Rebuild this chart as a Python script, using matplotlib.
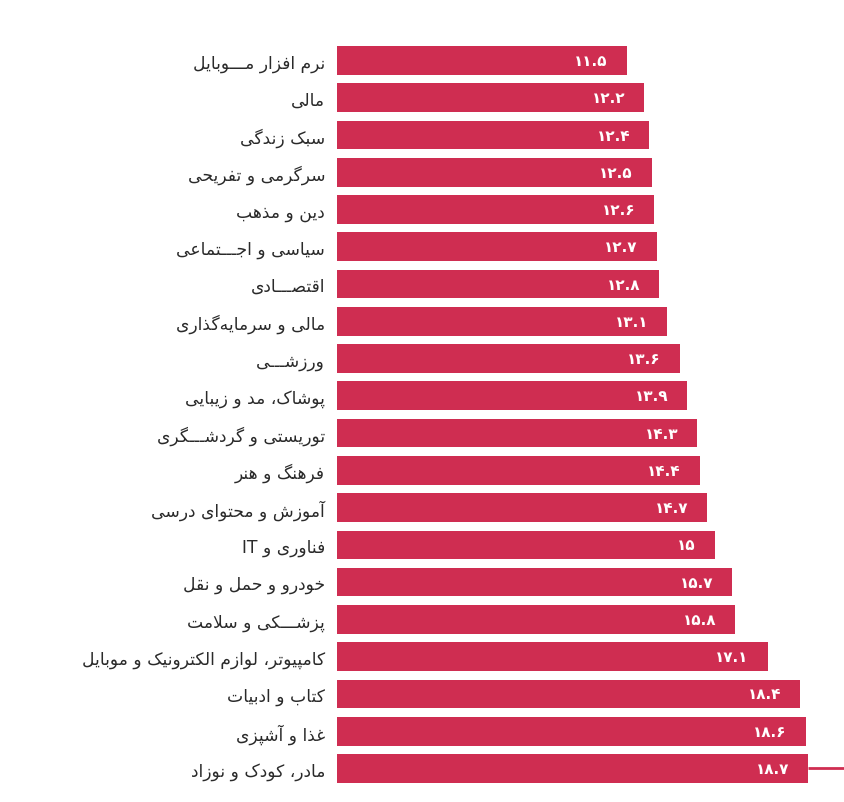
"""Horizontal bar chart of Persian categories (recreated)."""

import re

import matplotlib.pyplot as plt

categories = [
    "نرم افزار مـــوبایل",
    "مالی",
    "سبک زندگی",
    "سرگرمی و تفریحی",
    "دین و مذهب",
    "سیاسی و اجـــتماعی",
    "اقتصـــادی",
    "مالی و سرمایه\u200cگذاری",
    "ورزشـــی",
    "پوشاک، مد و زیبایی",
    "توریستی و گردشـــگری",
    "فرهنگ و هنر",
    "آموزش و محتوای درسی",
    "فناوری و IT",
    "خودرو و حمل و نقل",
    "پزشـــکی و سلامت",
    "کامپیوتر، لوازم الکترونیک و موبایل",
    "کتاب و ادبیات",
    "غذا و آشپزی",
    "مادر، کودک و نوزاد",
]
values = [11.5, 12.2, 12.4, 12.5, 12.6, 12.7, 12.8, 13.1, 13.6, 13.9,
          14.3, 14.4, 14.7, 15, 15.7, 15.8, 17.1, 18.4, 18.6, 18.7]

BAR_COLOR = "#CF2D51"

# presentation forms: (isolated, final, initial, medial)
FORMS = {
    "\u0622": ("\uFE81", "\uFE82", None, None),
    "\u0627": ("\uFE8D", "\uFE8E", None, None),
    "\u0628": ("\uFE8F", "\uFE90", "\uFE91", "\uFE92"),
    "\u062A": ("\uFE95", "\uFE96", "\uFE97", "\uFE98"),
    "\u062B": ("\uFE99", "\uFE9A", "\uFE9B", "\uFE9C"),
    "\u062C": ("\uFE9D", "\uFE9E", "\uFE9F", "\uFEA0"),
    "\u062D": ("\uFEA1", "\uFEA2", "\uFEA3", "\uFEA4"),
    "\u062E": ("\uFEA5", "\uFEA6", "\uFEA7", "\uFEA8"),
    "\u062F": ("\uFEA9", "\uFEAA", None, None),
    "\u0630": ("\uFEAB", "\uFEAC", None, None),
    "\u0631": ("\uFEAD", "\uFEAE", None, None),
    "\u0632": ("\uFEAF", "\uFEB0", None, None),
    "\u0633": ("\uFEB1", "\uFEB2", "\uFEB3", "\uFEB4"),
    "\u0634": ("\uFEB5", "\uFEB6", "\uFEB7", "\uFEB8"),
    "\u0635": ("\uFEB9", "\uFEBA", "\uFEBB", "\uFEBC"),
    "\u0636": ("\uFEBD", "\uFEBE", "\uFEBF", "\uFEC0"),
    "\u0637": ("\uFEC1", "\uFEC2", "\uFEC3", "\uFEC4"),
    "\u0638": ("\uFEC5", "\uFEC6", "\uFEC7", "\uFEC8"),
    "\u0639": ("\uFEC9", "\uFECA", "\uFECB", "\uFECC"),
    "\u063A": ("\uFECD", "\uFECE", "\uFECF", "\uFED0"),
    "\u0641": ("\uFED1", "\uFED2", "\uFED3", "\uFED4"),
    "\u0642": ("\uFED5", "\uFED6", "\uFED7", "\uFED8"),
    "\u0644": ("\uFEDD", "\uFEDE", "\uFEDF", "\uFEE0"),
    "\u0645": ("\uFEE1", "\uFEE2", "\uFEE3", "\uFEE4"),
    "\u0646": ("\uFEE5", "\uFEE6", "\uFEE7", "\uFEE8"),
    "\u0647": ("\uFEE9", "\uFEEA", "\uFEEB", "\uFEEC"),
    "\u0648": ("\uFEED", "\uFEEE", None, None),
    "\u067E": ("\uFB56", "\uFB57", "\uFB58", "\uFB59"),
    "\u0686": ("\uFB7A", "\uFB7B", "\uFB7C", "\uFB7D"),
    "\u0698": ("\uFB8A", "\uFB8B", None, None),
    "\u06A9": ("\uFB8E", "\uFB8F", "\uFB90", "\uFB91"),
    "\u06AF": ("\uFB92", "\uFB93", "\uFB94", "\uFB95"),
    "\u06CC": ("\uFBFC", "\uFBFD", "\uFBFE", "\uFBFF"),
    "\u0640": ("\u0640", "\u0640", "\u0640", "\u0640"),
}
LAM_ALEF = {"\u0627": ("\uFEFB", "\uFEFC"), "\u0622": ("\uFEF5", "\uFEF6")}


def joins_left(c):
    return c in FORMS and FORMS[c][2] is not None


def rtl(text):
    """Shape Persian text and put it in visual (left-to-right) order."""
    out = []
    i = 0
    while i < len(text):
        c = text[i]
        if c not in FORMS:
            if c != "\u200c":
                out.append(c)
            i += 1
            continue
        jp = i > 0 and joins_left(text[i - 1])
        nxt = text[i + 1] if i + 1 < len(text) else None
        if c == "\u0644" and nxt in LAM_ALEF:
            out.append(LAM_ALEF[nxt][1 if jp else 0])
            i += 2
            continue
        jn = joins_left(c) and nxt in FORMS
        iso, fin, ini, med = FORMS[c]
        out.append(med if jp and jn else fin if jp else ini if jn else iso)
        i += 1
    vis = "".join(out)[::-1]
    return re.sub(r"[A-Za-z0-9]+", lambda m: m.group()[::-1], vis)


def fa_num(v):
    s = f"{v:g}"
    return s.translate(str.maketrans("0123456789", "۰۱۲۳۴۵۶۷۸۹"))


plt.rcParams["font.family"] = ["DejaVu Sans"]

fig = plt.figure(figsize=(8.44, 8.03), dpi=100)
ax = fig.add_axes([337 / 844, 0, 1 - 337 / 844, 1])

y = list(range(len(categories)))
xmax = 507 / 25.19
ax.barh(y, values, height=0.77, color=BAR_COLOR)
ax.plot([values[-1], xmax], [y[-1], y[-1]], color=BAR_COLOR, lw=2, solid_capstyle="butt")

for yi, v in zip(y, values):
    ax.annotate(fa_num(v), (v, yi), xytext=(-19, 0), textcoords="offset pixels",
                ha="right", va="center", color="white", fontsize=11, fontweight="bold")

ax.set_xlim(0, xmax)
ax.set_ylim((803 - 61.5) / 37.26, -61.5 / 37.26)
ax.set_yticks(y)
ax.set_yticklabels([rtl(c) for c in categories], fontsize=12.3, color="#2a2a2a")
ax.tick_params(axis="y", length=0, pad=8.5)
ax.set_xticks([])
for s in ax.spines.values():
    s.set_visible(False)

fig.savefig("out.png", dpi=100)
